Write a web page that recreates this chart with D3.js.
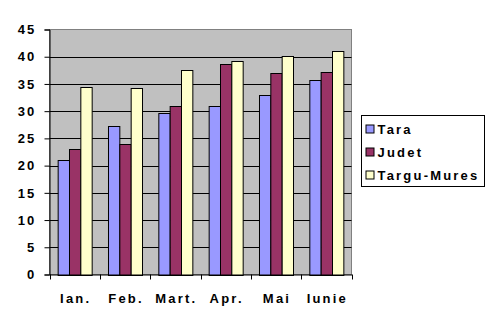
<!DOCTYPE html>
<html><head><meta charset="utf-8">
<script src="https://cdn.jsdelivr.net/npm/d3@7/dist/d3.min.js"></script>
<style>
html,body{margin:0;padding:0;background:#fff;}
svg text{font-family:"Liberation Sans",Arial,sans-serif;font-weight:bold;font-size:13px;letter-spacing:2.2px;fill:#000;}
</style></head>
<body><svg id="chart" width="495" height="329"></svg>
<script>
const categories = ["Ian.", "Feb.", "Mart.", "Apr.", "Mai", "Iunie"];
const seriesNames = ["Tara", "Judet", "Targu-Mures"];
const tara = [21.1, 27.2, 29.75, 31.0, 33.0, 35.8];
const judet = [23.1, 23.9, 30.9, 38.75, 37.0, 37.15];
const targuMures = [34.5, 34.3, 37.65, 39.3, 40.2, 41.1];
const yTicks = [0, 5, 10, 15, 20, 25, 30, 35, 40, 45];
const colors = ["#9999FF", "#993366", "#FFFFCC"];

const series = [tara, judet, targuMures];
const svg = d3.select("#chart");
const L = 49.5, R = 351.5, T = 29.5, B = 274.5;

const x = d3.scaleBand().domain(categories).range([L, R]).paddingInner(0).paddingOuter(0);
const y = d3.scaleLinear().domain([0, 45]).range([B, T]);
const inner = d3.scaleBand().domain(seriesNames).range([0, x.bandwidth()]).paddingInner(0).paddingOuter(0.72);

// plot background
svg.append("rect").attr("x", L).attr("y", T).attr("width", R - L).attr("height", B - T)
  .attr("fill", "#C0C0C0").attr("stroke", "#808080").attr("stroke-width", 1);

// gridlines
svg.append("g").selectAll("line").data(yTicks.filter(d => d > 0 && d < 45)).join("line")
  .attr("x1", L).attr("x2", R).attr("y1", d => Math.round(y(d)) + 0.5).attr("y2", d => Math.round(y(d)) + 0.5)
  .attr("stroke", "#000").attr("stroke-width", 1);

// bars
const groups = svg.append("g").selectAll("g").data(categories).join("g")
  .attr("transform", d => `translate(${x(d)},0)`);
groups.selectAll("rect").data((c, i) => series.map((s, k) => ({name: seriesNames[k], v: s[i], k})))
  .join("rect")
  .attr("x", d => inner(d.name) + 0.5)
  .attr("y", d => Math.round(y(d.v)) + 0.5)
  .attr("width", inner.bandwidth())
  .attr("height", d => Math.round(B) - Math.round(y(d.v)))
  .attr("fill", d => colors[d.k]).attr("stroke", "#000").attr("stroke-width", 1);

// y axis
const yAxis = d3.axisLeft(y).tickValues(yTicks).tickSize(5).tickPadding(8);
const gy = svg.append("g").attr("transform", `translate(${L},0)`).call(yAxis);
gy.select(".domain").attr("stroke", "#000");
gy.selectAll(".tick line").attr("stroke", "#000");
gy.selectAll("text").attr("font-size", null).attr("font-family", null);

// x axis
const xAxis = d3.axisBottom(x).tickSize(0).tickPadding(19);
const gx = svg.append("g").attr("transform", `translate(0,${B})`).call(xAxis);
gx.select(".domain").attr("stroke", "#000");
gx.selectAll("text").attr("font-size", null).attr("font-family", null).attr("dx", "1px");
// boundary ticks
gx.append("g").selectAll("line").data(categories.concat(["__end"])).join("line")
  .attr("x1", (d, i) => Math.round(L + i * x.bandwidth()) + 0.5)
  .attr("x2", (d, i) => Math.round(L + i * x.bandwidth()) + 0.5)
  .attr("y1", 0).attr("y2", 5).attr("stroke", "#000");

// legend
const lg = svg.append("g").attr("transform", "translate(361.5,115.5)");
lg.append("rect").attr("width", 123).attr("height", 71).attr("fill", "#fff").attr("stroke", "#000");
const items = lg.selectAll("g").data(seriesNames).join("g")
  .attr("transform", (d, i) => `translate(4,${14 + i * 23})`);
items.append("rect").attr("x", 0.5).attr("y", -4.5).attr("width", 8).attr("height", 8)
  .attr("fill", (d, i) => colors[i]).attr("stroke", "#000");
items.append("text").attr("x", 12).attr("y", 0).attr("dy", "0.35em").text(d => d);
</script></body></html>
